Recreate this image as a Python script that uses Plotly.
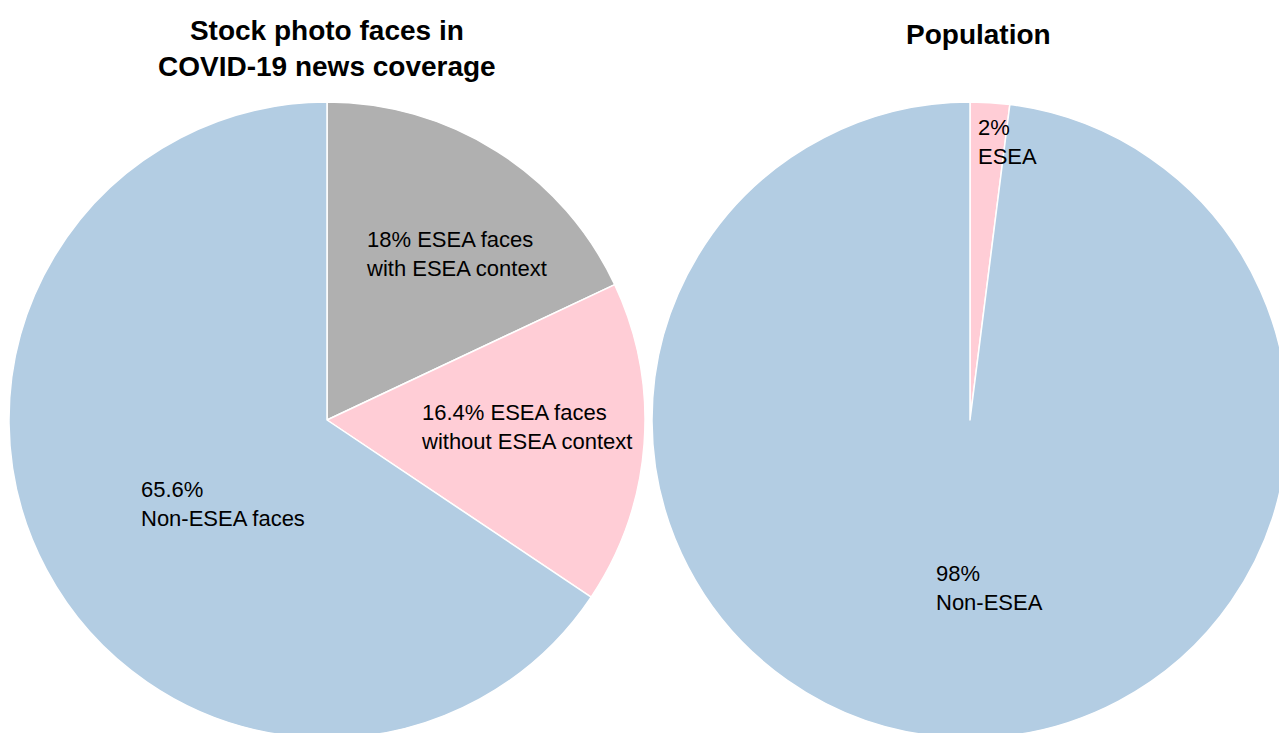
import plotly.graph_objects as go

# Data
left_labels = ["ESEA faces with ESEA context", "ESEA faces without ESEA context", "Non-ESEA faces"]
left_values = [18, 16.4, 65.6]
left_text = ["18% ESEA faces<br>with ESEA context", "16.4% ESEA faces<br>without ESEA context", "65.6%<br>Non-ESEA faces"]
right_labels = ["ESEA", "Non-ESEA"]
right_values = [2, 98]
right_text = ["2%<br>ESEA", "98%<br>Non-ESEA"]

BLUE = "#b3cde3"
GRAY = "#b0b0b0"
PINK = "#ffcdd6"

# canvas slightly larger than the window; the overflow is cut off like in the reference
W, H = 1288, 738

def px(x):
    return x / W

def py(y):
    return 1 - y / H

fig = go.Figure()
fig.add_trace(go.Pie(
    labels=left_labels, values=left_values, sort=False, direction="clockwise",
    rotation=0, textinfo="none", marker=dict(colors=[GRAY, PINK, BLUE], line=dict(color="white", width=1.5)),
    domain=dict(x=[px(9), px(645)], y=[0, py(102)]), showlegend=False,
))
fig.add_trace(go.Pie(
    labels=right_labels, values=right_values, sort=False, direction="clockwise",
    rotation=0, textinfo="none", marker=dict(colors=[PINK, BLUE], line=dict(color="white", width=1.5)),
    domain=dict(x=[px(652), 1], y=[0, py(102)]), showlegend=False,
))

label_pos_left = [(364, 254), (419, 427.5), (139, 504)]
label_pos_right = [(976, 142), (934, 588)]
annotations = []
for t, (x, y) in zip(left_text + right_text, label_pos_left + label_pos_right):
    annotations.append(dict(text=t, x=px(x), y=py(y), xref="paper", yref="paper",
                            xanchor="left", yanchor="middle", align="left", showarrow=False,
                            font=dict(family="Liberation Sans, Arial", size=22, color="black")))
annotations.append(dict(text="<b>Stock photo faces in<br>COVID-19 news coverage</b>", x=px(327), y=py(48),
                        xref="paper", yref="paper", xanchor="center", yanchor="middle", showarrow=False,
                        font=dict(family="Liberation Sans, Arial", size=28, color="black")))
annotations.append(dict(text="<b>Population</b>", x=px(978), y=py(35),
                        xref="paper", yref="paper", xanchor="center", yanchor="middle", showarrow=False,
                        font=dict(family="Liberation Sans, Arial", size=28, color="black")))

fig.update_layout(
    width=W, height=H, autosize=False, margin=dict(l=0, r=0, t=0, b=0),
    paper_bgcolor="white", plot_bgcolor="white",
    annotations=annotations,
)

post = ("document.documentElement.style.overflow='hidden';"
        "document.body.style.margin='0';"
        "document.body.style.overflow='hidden';")
fig.write_html("out.html", post_script=post, config={"displayModeBar": False})
